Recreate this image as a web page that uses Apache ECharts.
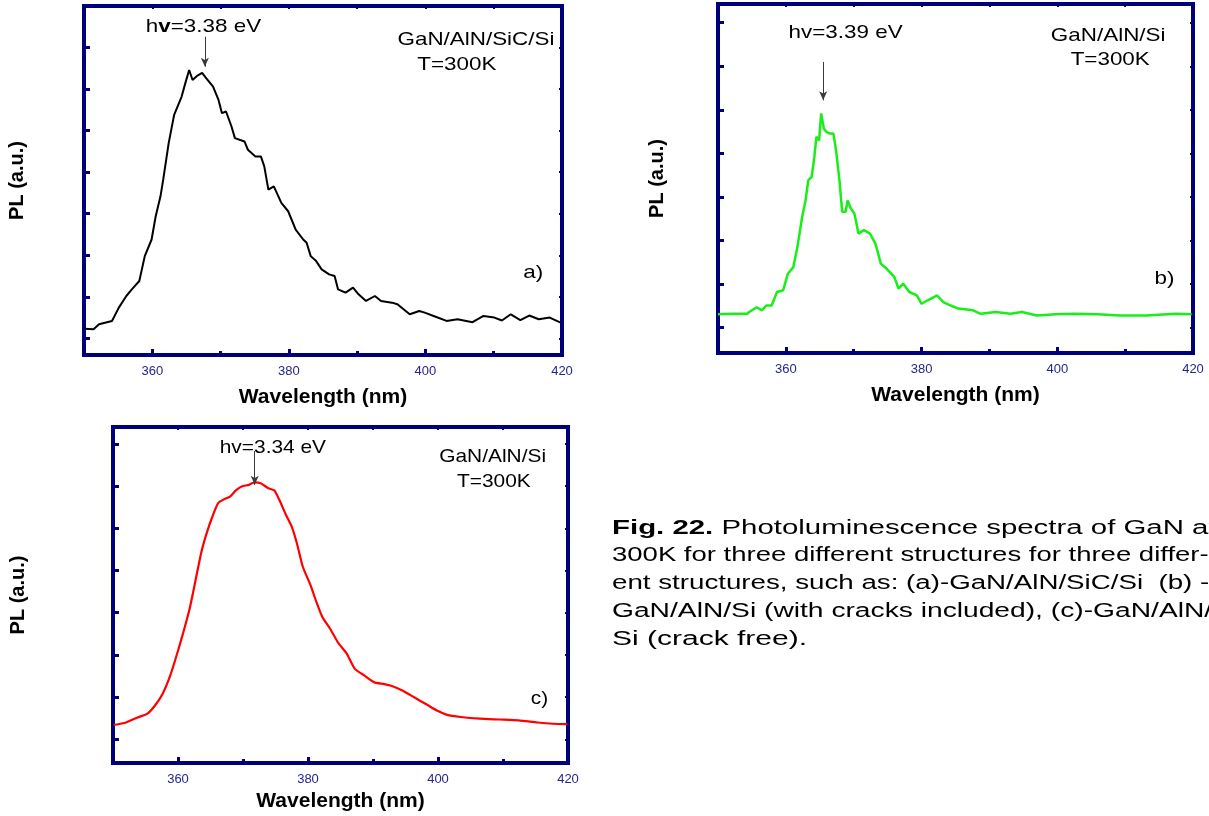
<!DOCTYPE html>
<html>
<head>
<meta charset="utf-8">
<title>PL spectra of GaN</title>
<script src="https://cdn.jsdelivr.net/npm/echarts@6/dist/echarts.min.js"></script>
<style>
  html, body { margin: 0; padding: 0; background: #fff; }
  #chart { width: 1209px; height: 816px; }
</style>
</head>
<body>
<div id="chart"></div>
<script>
// panel a) GaN/AlN/SiC/Si  - wavelength (nm) and PL (a.u.)
var wavelengthA = [350.0, 351.4, 352.2, 354.1, 355.1, 356.2, 357.0, 358.1, 358.9, 359.9, 360.5, 361.2, 361.6, 362.4, 363.2, 364.3, 364.9, 365.4, 365.9, 366.5, 367.3, 367.8, 368.9, 369.7, 370.2, 370.8, 371.6, 372.1, 373.5, 374.0, 375.1, 375.9, 376.4, 377.0, 377.8, 378.9, 379.9, 381.0, 382.1, 382.6, 383.2, 384.0, 384.8, 385.9, 386.7, 387.2, 388.3, 389.4, 390.2, 391.3, 392.6, 393.5, 395.1, 395.9, 397.7, 399.1, 399.9, 401.2, 403.1, 404.7, 406.9, 408.5, 410.1, 411.2, 412.5, 413.9, 415.2, 416.6, 418.2, 419.8]
var plA = [0.23, 0.22, 0.34, 0.42, 0.74, 1.02, 1.18, 1.38, 1.98, 2.38, 2.94, 3.42, 3.82, 4.70, 5.38, 5.82, 6.18, 6.46, 6.22, 6.31, 6.39, 6.28, 6.06, 5.74, 5.42, 5.46, 5.10, 4.82, 4.74, 4.54, 4.38, 4.38, 4.14, 3.58, 3.66, 3.26, 3.06, 2.62, 2.38, 2.30, 1.98, 1.86, 1.66, 1.54, 1.50, 1.18, 1.10, 1.22, 1.06, 0.90, 1.02, 0.90, 0.86, 0.82, 0.58, 0.66, 0.62, 0.54, 0.42, 0.46, 0.39, 0.54, 0.50, 0.43, 0.58, 0.44, 0.55, 0.46, 0.50, 0.38]

// panel b) GaN/AlN/Si (cracks)
var wavelengthB = [350.0, 352.1, 354.3, 354.6, 355.7, 356.5, 357.1, 357.9, 358.7, 359.6, 360.3, 361.1, 361.7, 362.4, 362.9, 363.3, 363.8, 364.2, 364.5, 364.9, 365.2, 365.4, 365.6, 366.0, 366.4, 367.0, 367.4, 367.9, 368.3, 368.8, 369.1, 369.6, 370.1, 370.7, 371.5, 372.4, 373.2, 374.0, 374.8, 376.0, 376.6, 377.3, 378.2, 379.3, 380.0, 380.9, 382.3, 383.2, 384.3, 385.4, 387.6, 388.7, 390.9, 393.1, 394.8, 397.0, 399.8, 402.5, 405.9, 409.2, 413.1, 417.5, 419.8]
var plB = [0.31, 0.32, 0.32, 0.36, 0.47, 0.40, 0.51, 0.51, 0.82, 0.86, 1.24, 1.39, 1.85, 2.54, 2.92, 3.38, 3.46, 3.92, 4.38, 4.30, 4.92, 4.88, 4.57, 4.49, 4.46, 4.46, 4.07, 3.38, 2.66, 2.66, 2.92, 2.73, 2.62, 2.16, 2.24, 2.16, 1.93, 1.47, 1.36, 1.16, 0.90, 1.01, 0.82, 0.74, 0.55, 0.63, 0.74, 0.59, 0.51, 0.44, 0.40, 0.32, 0.36, 0.32, 0.36, 0.28, 0.31, 0.32, 0.31, 0.28, 0.28, 0.32, 0.31]

// panel c) GaN/AlN/Si (crack free)
var wavelengthC = [350.1, 352.0, 353.8, 355.3, 356.4, 357.6, 358.8, 360.0, 360.9, 361.8, 362.7, 363.6, 364.4, 365.3, 366.2, 367.1, 368.0, 368.9, 369.8, 370.9, 371.8, 372.7, 373.9, 374.8, 375.6, 376.6, 377.5, 378.3, 379.2, 380.4, 381.3, 382.2, 383.4, 384.6, 386.0, 387.2, 388.7, 390.2, 391.7, 392.8, 394.6, 396.4, 398.2, 400.0, 401.4, 403.5, 406.4, 409.4, 412.4, 415.3, 417.7, 419.9]
var plC = [0.34, 0.40, 0.52, 0.61, 0.79, 1.07, 1.51, 2.10, 2.58, 3.10, 3.77, 4.44, 4.88, 5.28, 5.60, 5.69, 5.75, 5.90, 5.99, 6.03, 6.09, 6.07, 5.95, 5.90, 5.67, 5.32, 5.04, 4.64, 4.09, 3.65, 3.25, 2.90, 2.62, 2.30, 2.02, 1.67, 1.51, 1.35, 1.31, 1.27, 1.15, 0.99, 0.83, 0.67, 0.58, 0.53, 0.49, 0.47, 0.45, 0.40, 0.37, 0.36]

// ticks
var xMajorTicks = [360, 380, 400, 420]
var xMinorTicks = [370, 390, 410]
var yTicks = [0, 1, 2, 3, 4, 5, 6, 7]

// annotation texts
var peakTexts = ['h{v|v}=3.38 eV', 'hv=3.39 eV', 'hv=3.34 eV']
var sampleTexts = ['GaN/AlN/SiC/Si', 'GaN/AlN/Si', 'GaN/AlN/Si']
var tempText = 'T=300K'
var panelTags = ['a)', 'b)', 'c)']
var captionLines = [
  '{b|Fig. 22.} Photoluminescence spectra of GaN at',
  '300K for three different structures for three differ-',
  'ent structures, such as: (a)-GaN/AlN/SiC/Si  (b) -',
  'GaN/AlN/Si (with cracks included), (c)-GaN/AlN/',
  'Si (crack free).'
]

var FONT = '"Liberation Sans", Arial, sans-serif'
var frameColor = '#00007a'
var tickLabelColor = '#25258f'
// the caption is justified, so each line gets its own horizontal stretch
var captionStretch = [1.47, 1.375, 1.385, 1.41, 1.5]

function pairs(xs, ys) {
  return xs.map(function (x, i) { return [x, ys[i]] })
}

// layout of the three panels (pixel boxes + where the notes sit, in data units)
var panels = [
  {
    grid: { left: 84, top: 6, width: 478, height: 349 },
    yMin: -0.4, yMax: 8.0, xGap: 32, yGap: 56.5, textStretch: 1.18,
    data: pairs(wavelengthA, plA), color: '#000000', lineWidth: 2, smooth: false,
    peakAt: [367.5, 7.5], arrow: [367.7, 7.26, 6.54],
    sampleAt: [407.4, 7.19], tempAt: [404.6, 6.58], tagAt: [415.8, 1.58]
  },
  {
    grid: { left: 718, top: 4, width: 475, height: 349 },
    yMin: -0.58, yMax: 7.43, xGap: 32, yGap: 50.5, textStretch: 1.18,
    data: pairs(wavelengthB, plB), color: '#18ee18', lineWidth: 2.5, smooth: false,
    peakAt: [368.8, 6.78], arrow: [365.5, 6.10, 5.22],
    sampleAt: [407.5, 6.71], tempAt: [407.8, 6.14], tagAt: [415.8, 1.13]
  },
  {
    grid: { left: 113, top: 427, width: 455, height: 336 },
    yMin: -0.56, yMax: 7.40, xGap: 28, yGap: 84.5, textStretch: 1.1,
    data: pairs(wavelengthC, plC), color: '#ff0000', lineWidth: 2.2, smooth: 0.2,
    peakAt: [374.6, 6.90], arrow: [371.8, 6.83, 6.03],
    sampleAt: [408.4, 6.69], tempAt: [408.6, 6.11], tagAt: [415.6, 0.95]
  }
]

var grids = []
var xAxes = []
var yAxes = []
var series = []

panels.forEach(function (p, i) {
  grids.push(Object.assign({ show: true, borderColor: frameColor, borderWidth: 4, backgroundColor: 'transparent' }, p.grid))

  var xBase = { gridIndex: i, type: 'value', min: 350, max: 420, splitLine: { show: false }, axisLine: { show: false, onZero: false } }
  // bottom axis: labels + major ticks
  xAxes.push(Object.assign({}, xBase, {
    position: 'bottom',
    name: 'Wavelength (nm)', nameLocation: 'middle', nameGap: p.xGap,
    nameTextStyle: { fontFamily: FONT, fontWeight: 'bold', fontSize: 21, color: '#000' },
    axisTick: { inside: true, length: 6, customValues: xMajorTicks, lineStyle: { color: frameColor, width: 3 } },
    axisLabel: { customValues: xMajorTicks, margin: 10, fontFamily: FONT, fontSize: 13, color: tickLabelColor }
  }))
  // bottom axis: minor ticks only
  xAxes.push(Object.assign({}, xBase, {
    position: 'bottom',
    axisTick: { inside: true, length: 4, customValues: xMinorTicks, lineStyle: { color: frameColor, width: 3 } },
    axisLabel: { show: false }
  }))
  // top mirror ticks
  xAxes.push(Object.assign({}, xBase, {
    position: 'top',
    axisTick: { inside: true, length: 3, customValues: xMajorTicks.concat(xMinorTicks), lineStyle: { color: frameColor, width: 2 } },
    axisLabel: { show: false }
  }))

  var yBase = { gridIndex: i, type: 'value', min: p.yMin, max: p.yMax, splitLine: { show: false }, axisLine: { show: false, onZero: false }, axisLabel: { show: false } }
  yAxes.push(Object.assign({}, yBase, {
    position: 'left',
    name: 'PL (a.u.)', nameLocation: 'middle', nameGap: p.yGap,
    nameTextStyle: { fontFamily: FONT, fontWeight: 'bold', fontSize: 20, color: '#000' },
    axisTick: { inside: true, length: 6, customValues: yTicks, lineStyle: { color: frameColor, width: 3 } }
  }))
  yAxes.push(Object.assign({}, yBase, {
    position: 'right',
    axisTick: { inside: true, length: 3, customValues: yTicks, lineStyle: { color: frameColor, width: 2 } }
  }))

  series.push({
    type: 'line',
    xAxisIndex: i * 3, yAxisIndex: i * 2,
    data: p.data,
    symbol: 'none',
    smooth: p.smooth,
    lineStyle: { color: p.color, width: p.lineWidth },
    markLine: {
      silent: true,
      symbol: ['none', 'arrow'],
      symbolSize: [6, 9],
      label: { show: false },
      lineStyle: { color: '#3a3a3a', width: 1, type: 'solid' },
      data: [[{ coord: [p.arrow[0], p.arrow[1]] }, { coord: [p.arrow[0], p.arrow[2]] }]]
    },
    z: 3
  })
})

var chart = echarts.init(document.getElementById('chart'))
chart.setOption({
  animation: false,
  backgroundColor: '#ffffff',
  grid: grids,
  xAxis: xAxes,
  yAxis: yAxes,
  series: series
})

// the text in the original figure is horizontally stretched, so notes are
// drawn as graphic text placed through the axes and widened with scaleX
var graphics = []
panels.forEach(function (p, i) {
  var finder = { xAxisIndex: i * 3, yAxisIndex: i * 2 }
  function note(text, at) {
    var pt = chart.convertToPixel(finder, at)
    graphics.push({
      type: 'text', x: pt[0], y: pt[1], scaleX: p.textStretch, silent: true, z: 10,
      style: {
        text: text, fontFamily: FONT, fontSize: 19, fill: '#000',
        align: 'center', verticalAlign: 'middle',
        rich: { v: { fontFamily: FONT, fontSize: 19, fontWeight: 'bold', fill: '#000' } }
      }
    })
  }
  note(peakTexts[i], p.peakAt)
  note(sampleTexts[i], p.sampleAt)
  note(tempText, p.tempAt)
  note(panelTags[i], p.tagAt)
})

captionLines.forEach(function (line, k) {
  graphics.push({
    type: 'text', x: 612, y: 518 + k * 27.75, scaleX: captionStretch[k], silent: true,
    style: {
      text: line, fontFamily: FONT, fontSize: 20, fill: '#000',
      align: 'left', verticalAlign: 'top',
      rich: { b: { fontFamily: FONT, fontSize: 20, fontWeight: 'bold', fill: '#000' } }
    }
  })
})

chart.setOption({ graphic: graphics })
</script>
</body>
</html>
